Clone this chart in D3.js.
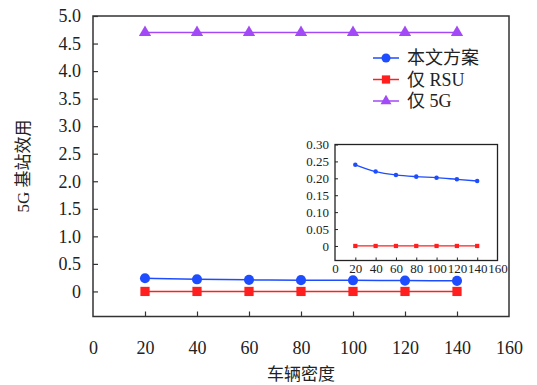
<!DOCTYPE html>
<html>
<head>
<meta charset="utf-8">
<script src="https://cdn.jsdelivr.net/npm/d3@7"></script>
<style>
body { margin: 0; background: #fff; }
</style>
</head>
<body>
<div id="chart"></div>
<script>
// vehicle density
var density = [20, 40, 60, 80, 100, 120, 140];
// 5G base station utility
var ours = [0.240, 0.220, 0.210, 0.205, 0.202, 0.197, 0.192];
var rsuOnly = [0, 0, 0, 0, 0, 0, 0];
var fiveGOnly = [4.7, 4.7, 4.7, 4.7, 4.7, 4.7, 4.7];

var xTicks = [0, 20, 40, 60, 80, 100, 120, 140, 160];
var yTicks = [0, 0.5, 1.0, 1.5, 2.0, 2.5, 3.0, 3.5, 4.0, 4.5, 5.0];
var insetYTicks = [0, 0.05, 0.10, 0.15, 0.20, 0.25, 0.30];

var legendNames = ["本文方案", "仅 RSU", "仅 5G"];
var colors = ["#1e4dff", "#ff1f1f", "#a24af5"];

var serif = "'Times New Roman', 'Liberation Serif', 'DejaVu Serif', 'Noto Sans CJK SC', serif";

var svg = d3.select("#chart").append("svg")
	.attr("width", 537)
	.attr("height", 385)
	.style("font-family", serif);

var x = d3.scaleLinear().domain([0, 160]).range([93, 509]);
var y = d3.scaleLinear().domain([-0.455, 5.0]).range([316.5, 16]);

// frame
svg.append("rect")
	.attr("x", 93).attr("y", 16)
	.attr("width", 509 - 93).attr("height", 316.5 - 16)
	.attr("fill", "none").attr("stroke", "#333").attr("stroke-width", 1.5);

// y axis, ticks pointing inside
var yAxis = svg.append("g")
	.attr("transform", "translate(93,0)")
	.call(d3.axisRight(y).tickValues(yTicks).tickSize(5).tickFormat(function(d){ return d == 0 ? "0" : d3.format(".1f")(d); }));
yAxis.attr("font-family", null).attr("font-size", null);
yAxis.select(".domain").remove();
yAxis.selectAll("line").attr("stroke", "#333").attr("stroke-width", 1.2);
yAxis.selectAll("text")
	.attr("x", -12).attr("text-anchor", "end")
	.style("font-family", serif)
	.style("font-size", "18px").attr("fill", "#222");

// x axis, ticks pointing inside
var xAxis = svg.append("g")
	.attr("transform", "translate(0,316.5)")
	.call(d3.axisTop(x).tickValues(xTicks).tickSize(5).tickFormat(d3.format("d")));
xAxis.attr("font-family", null).attr("font-size", null);
xAxis.select(".domain").remove();
xAxis.selectAll("line").attr("stroke", "#333").attr("stroke-width", 1.2)
	.attr("opacity", function(d){ return (d == 0 || d == 160) ? 0 : 1; });
xAxis.selectAll("text")
	.attr("y", 32).attr("dy", "0.32em")
	.style("font-family", serif)
	.style("font-size", "18px").attr("fill", "#222");

// axis titles
svg.append("text")
	.attr("x", 301).attr("y", 380)
	.attr("text-anchor", "middle")
	.style("font-size", "17px").attr("fill", "#222")
	.text("车辆密度");
svg.append("text")
	.attr("transform", "translate(29,166) rotate(-90)")
	.attr("text-anchor", "middle")
	.style("font-size", "17px").attr("fill", "#222")
	.text("5G 基站效用");

var series = [ours, rsuOnly, fiveGOnly];
var shapes = [d3.symbolCircle, d3.symbolSquare, d3.symbolTriangle];
var sizes = [80, 85, 65];

function drawSeries(g, xs, ys, vals, color, shape, size, lw) {
	var line = d3.line()
		.x(function(d, i){ return xs(density[i]); })
		.y(function(d){ return ys(d); })
		.curve(d3.curveMonotoneX);
	g.append("path")
		.datum(vals)
		.attr("d", line)
		.attr("fill", "none")
		.attr("stroke", color)
		.attr("stroke-width", lw);
	g.selectAll(null)
		.data(vals)
		.enter().append("path")
		.attr("transform", function(d, i){ return "translate(" + xs(density[i]) + "," + ys(d) + ")"; })
		.attr("d", d3.symbol().type(shape).size(size))
		.attr("fill", color);
}

var main = svg.append("g");
series.forEach(function(s, k){
	drawSeries(main, x, y, s, colors[k], shapes[k], sizes[k], 1.5);
});

// legend
var legend = svg.append("g");
legendNames.forEach(function(name, k){
	var ly = 58 + k * 21.5;
	legend.append("line")
		.attr("x1", 373).attr("x2", 399)
		.attr("y1", ly).attr("y2", ly)
		.attr("stroke", colors[k]).attr("stroke-width", 1.5);
	legend.append("path")
		.attr("transform", "translate(386," + ly + ")")
		.attr("d", d3.symbol().type(shapes[k]).size(sizes[k] * 0.8))
		.attr("fill", colors[k]);
	legend.append("text")
		.attr("x", 407).attr("y", ly).attr("dy", "0.35em")
		.style("font-size", "18px").attr("fill", "#222")
		.text(name);
});

// inset
var ix = d3.scaleLinear().domain([0, 160]).range([335, 497.5]);
var iy = d3.scaleLinear().domain([-0.043, 0.30]).range([260.5, 144.5]);
var inset = svg.append("g");
inset.append("rect")
	.attr("x", 335).attr("y", 144.5)
	.attr("width", 497.5 - 335).attr("height", 260.5 - 144.5)
	.attr("fill", "#fff").attr("stroke", "#222").attr("stroke-width", 1.3);

var iyAxis = inset.append("g")
	.attr("transform", "translate(335,0)")
	.call(d3.axisRight(iy).tickValues(insetYTicks).tickSize(3).tickFormat(function(d){ return d == 0 ? "0" : d3.format(".2f")(d); }));
iyAxis.attr("font-family", null).attr("font-size", null);
iyAxis.select(".domain").remove();
iyAxis.selectAll("line").attr("stroke", "#222");
iyAxis.selectAll("text")
	.attr("x", -6).attr("text-anchor", "end")
	.style("font-family", serif)
	.style("font-size", "13px").attr("fill", "#222");

var ixAxis = inset.append("g")
	.attr("transform", "translate(0,260.5)")
	.call(d3.axisTop(ix).tickValues(xTicks).tickSize(3).tickFormat(d3.format("d")));
ixAxis.attr("font-family", null).attr("font-size", null);
ixAxis.select(".domain").remove();
ixAxis.selectAll("line").attr("stroke", "#222")
	.attr("opacity", function(d){ return (d == 0 || d == 160) ? 0 : 1; });
ixAxis.selectAll("text")
	.attr("y", 8).attr("dy", "0.32em")
	.style("font-family", serif)
	.style("font-size", "13px").attr("fill", "#222");

drawSeries(inset, ix, iy, ours, colors[0], d3.symbolCircle, 16, 1.3);
drawSeries(inset, ix, iy, rsuOnly, colors[1], d3.symbolSquare, 18, 1.3);
</script>
</body>
</html>
